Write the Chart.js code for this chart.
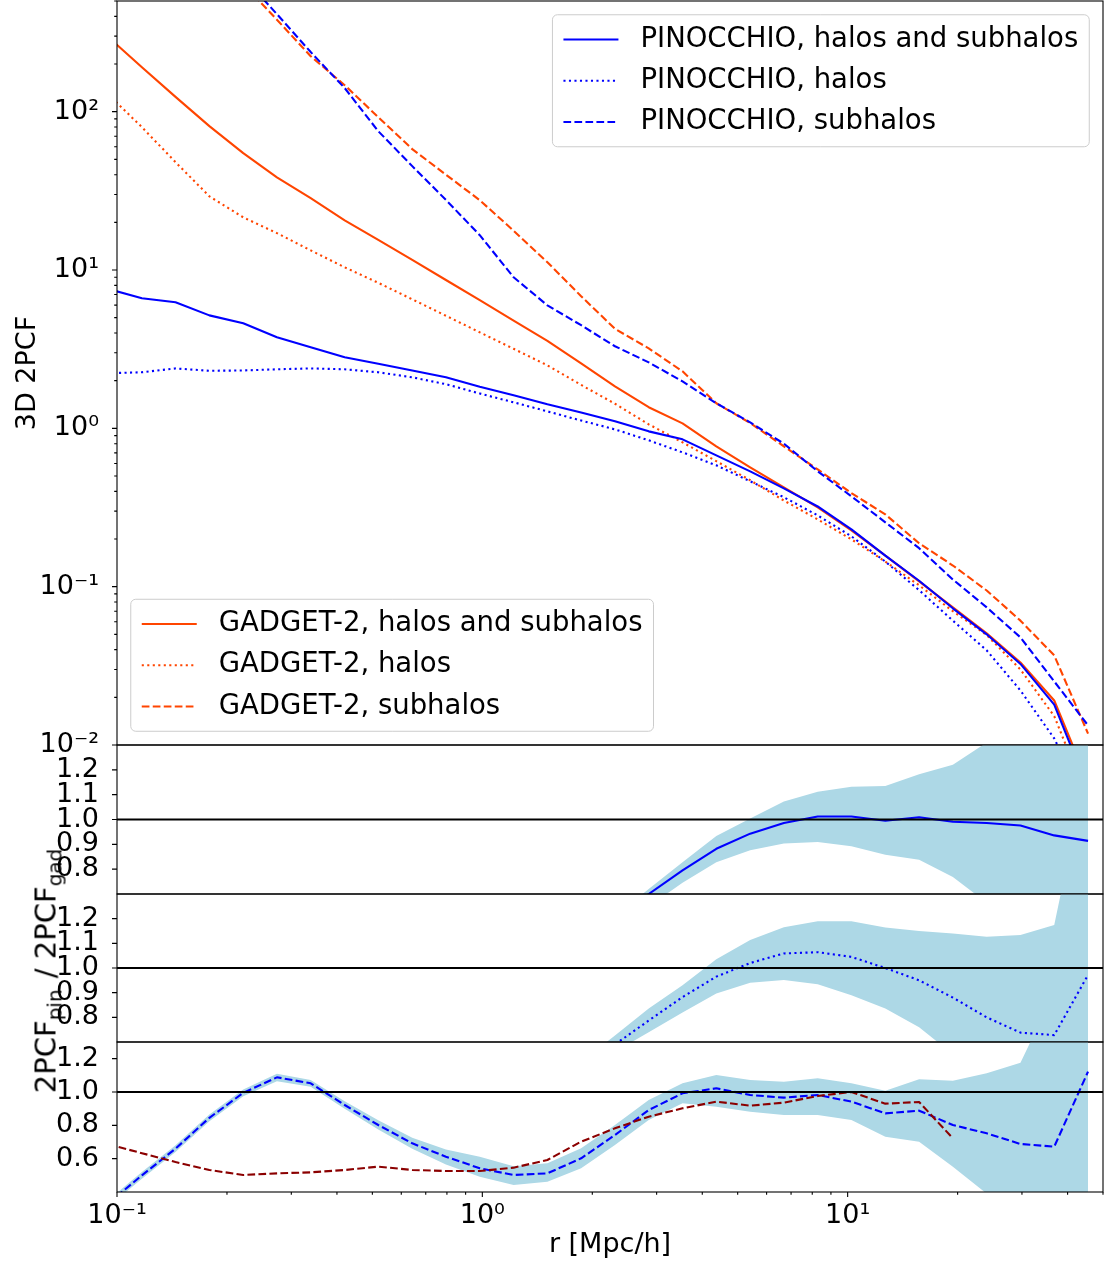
<!DOCTYPE html>
<html>
<head>
<meta charset="utf-8">
<title>3D 2PCF, PINOCCHIO vs GADGET-2</title>
<script src="https://cdn.jsdelivr.net/npm/chart.js"></script>
<style>
  body { margin: 0; background: #fff; }
  #page { position: relative; width: 1107px; height: 1268px; overflow: hidden; background: #fff; }
  #page canvas { position: absolute; left: 0; }
  #ratioLabel {
    position: absolute; left: 46px; top: 970px;
    transform: translate(-50%, -50%) rotate(-90deg);
    font: 29px "DejaVu Sans", sans-serif; white-space: nowrap; line-height: 1; color: #000;
  }
  #ratioLabel sub { font-size: 20px; vertical-align: -6px; line-height: 0; margin-right: 2px; }
</style>
</head>
<body>
<div id="page">
  <canvas id="panelMain" width="1107" height="770" style="top:0px"></canvas>
  <canvas id="panelTot" width="1107" height="169" style="top:735px"></canvas>
  <canvas id="panelHalo" width="1107" height="168" style="top:884px"></canvas>
  <canvas id="panelSub" width="1107" height="236" style="top:1032px"></canvas>
  <div id="ratioLabel">2PCF<sub>pin</sub> / 2PCF<sub>gad</sub></div>
</div>
<script>
// bin centres r [Mpc/h]; the first one sits just left of the axis
const r = [0.0945, 0.117, 0.1446, 0.179, 0.2216, 0.274, 0.339, 0.420, 0.519, 0.643,
  0.795, 0.984, 1.218, 1.507, 1.864, 2.307, 2.854, 3.532, 4.37, 5.41,
  6.69, 8.28, 10.24, 12.68, 15.69, 19.41, 24.02, 29.72, 36.77, 45.5];

// top panel: 3D 2PCF
const gadTot = [297, 191, 124, 81, 54.7, 38.5, 28.4, 20.6, 15.5, 11.6,
  8.65, 6.45, 4.79, 3.57, 2.57, 1.84, 1.36, 1.075, 0.77, 0.567,
  0.424, 0.317, 0.227, 0.157, 0.108, 0.074, 0.0507, 0.0332, 0.0191, 0.0058];
const gadHalo = [129, 79.8, 48, 29.2, 21.5, 17.1, 13.3, 10.4, 8.3, 6.53,
  5.14, 4.04, 3.18, 2.50, 1.88, 1.43, 1.06, 0.816, 0.62, 0.47,
  0.35, 0.266, 0.199, 0.144, 0.102, 0.07, 0.0495, 0.030, 0.0152, 0.0045];
const gadSub = [4800, 2900, 1800, 1070, 640, 381, 224, 147, 92.3, 58,
  40, 27.6, 17.7, 11.2, 6.83, 4.25, 3.2, 2.29, 1.44, 1.08,
  0.77, 0.55, 0.39, 0.286, 0.188, 0.136, 0.0946, 0.061, 0.0368, 0.0118];
const pinTot = [7.61, 6.63, 6.25, 5.17, 4.61, 3.76, 3.25, 2.81, 2.56, 2.32,
  2.10, 1.83, 1.62, 1.42, 1.26, 1.11, 0.957, 0.852, 0.675, 0.535,
  0.418, 0.321, 0.230, 0.157, 0.109, 0.073, 0.050, 0.0325, 0.018, 0.0053];
const pinHalo = [2.23, 2.26, 2.39, 2.31, 2.32, 2.36, 2.39, 2.36, 2.26, 2.10,
  1.90, 1.66, 1.46, 1.28, 1.12, 0.985, 0.84, 0.705, 0.584, 0.463,
  0.367, 0.282, 0.208, 0.144, 0.095, 0.061, 0.0396, 0.0221, 0.011, 0.004];
const pinSub = [6200, 3590, 2080, 1210, 708, 413, 238, 141, 75.3, 45.3,
  27.7, 16.6, 9.0, 5.98, 4.48, 3.30, 2.61, 1.98, 1.44, 1.09,
  0.80, 0.535, 0.372, 0.255, 0.175, 0.111, 0.074, 0.0478, 0.0252, 0.0133];

// ratio panels: pin / gad and the light blue bands
const ratioTot = [0.03, 0.035, 0.05, 0.06, 0.08, 0.10, 0.11, 0.14, 0.17, 0.19,
  0.23, 0.27, 0.33, 0.40, 0.49, 0.60, 0.70, 0.795, 0.882, 0.943,
  0.986, 1.012, 1.012, 0.995, 1.009, 0.991, 0.986, 0.976, 0.936, 0.914];
const ratioTotHi = [0.04, 0.045, 0.06, 0.07, 0.09, 0.11, 0.13, 0.16, 0.19, 0.22,
  0.26, 0.31, 0.37, 0.44, 0.53, 0.61, 0.72, 0.828, 0.934, 1.004,
  1.072, 1.112, 1.132, 1.135, 1.182, 1.22, 1.31, 1.45, 1.7, 2.0];
const ratioTotLo = [0.02, 0.025, 0.04, 0.05, 0.07, 0.09, 0.10, 0.12, 0.15, 0.17,
  0.20, 0.24, 0.29, 0.36, 0.45, 0.52, 0.65, 0.745, 0.828, 0.876,
  0.903, 0.909, 0.892, 0.858, 0.838, 0.768, 0.665, 0.55, 0.45, 0.40];

const ratioHalo = [0.017, 0.028, 0.05, 0.08, 0.11, 0.14, 0.18, 0.23, 0.27, 0.32,
  0.37, 0.41, 0.46, 0.51, 0.61, 0.69, 0.787, 0.882, 0.965, 1.02,
  1.059, 1.064, 1.045, 1.0, 0.95, 0.88, 0.80, 0.738, 0.728, 0.972];
const ratioHaloHi = [0.03, 0.04, 0.06, 0.09, 0.12, 0.16, 0.20, 0.25, 0.30, 0.35,
  0.40, 0.45, 0.50, 0.56, 0.62, 0.726, 0.836, 0.93, 1.035, 1.114,
  1.165, 1.19, 1.19, 1.164, 1.15, 1.14, 1.127, 1.134, 1.174, 1.83];
const ratioHaloLo = [0.01, 0.02, 0.04, 0.07, 0.10, 0.12, 0.16, 0.20, 0.24, 0.29,
  0.33, 0.37, 0.42, 0.47, 0.52, 0.66, 0.74, 0.82, 0.897, 0.94,
  0.951, 0.934, 0.89, 0.836, 0.76, 0.65, 0.55, 0.45, 0.40, 0.35];

const ratioSub = [0.33, 0.50, 0.66, 0.845, 0.995, 1.088, 1.052, 0.922, 0.802, 0.692,
  0.612, 0.542, 0.502, 0.512, 0.602, 0.742, 0.892, 0.992, 1.022, 0.982,
  0.966, 0.982, 0.942, 0.872, 0.888, 0.802, 0.752, 0.688, 0.672, 1.122];
const ratioSubHi = [0.35, 0.52, 0.68, 0.865, 1.015, 1.11, 1.072, 0.945, 0.83, 0.725,
  0.655, 0.612, 0.555, 0.572, 0.662, 0.802, 0.952, 1.052, 1.102, 1.072,
  1.062, 1.082, 1.052, 1.008, 1.076, 1.068, 1.112, 1.175, 1.6, 1.8];
const ratioSubLo = [0.31, 0.48, 0.64, 0.825, 0.975, 1.065, 1.032, 0.90, 0.775, 0.66,
  0.565, 0.492, 0.442, 0.462, 0.542, 0.682, 0.832, 0.932, 0.912, 0.882,
  0.862, 0.862, 0.832, 0.732, 0.702, 0.552, 0.39, 0.30, 0.25, 0.20];
const ratioSubAlt = [0.686, 0.633, 0.58, 0.532, 0.502, 0.512, 0.518, 0.532, 0.552, 0.532,
  0.526, 0.526, 0.546, 0.592, 0.702, 0.782, 0.852, 0.902, 0.942, 0.918,
  0.936, 0.976, 1.0, 0.93, 0.94, 0.722, null, null, null, null];

// ticks
const xTicks = [0.1, 1, 10];
const xTickText = ['10⁻¹', '10⁰', '10¹'];
const yTicks = [0.01, 0.1, 1, 10, 100];
const yTickText = ['10⁻²', '10⁻¹', '10⁰', '10¹', '10²'];
const ratioTicks = [0.8, 0.9, 1.0, 1.1, 1.2];
const ratioSubTicks = [0.6, 0.8, 1.0, 1.2];

const FS = 27;
const FS_LEG = 27.5;
const LW = 2.1;
const DOT = [2.1, 3.4];
const DASH = [7.7, 3.3];
const BLUE = '#0000ff', ORANGE = '#ff4500', DARKRED = '#8b0000', BAND = '#add8e6';

Chart.defaults.font.family = '"DejaVu Sans", sans-serif';
Chart.defaults.font.size = FS;
Chart.defaults.color = '#000';
Chart.defaults.animation = false;

const pts = ys => r.map((x, i) => ({ x: x, y: ys[i] }));

function logMinors(min, max) {
  const out = [];
  for (let k = Math.floor(Math.log10(min)); k <= Math.ceil(Math.log10(max)); k++) {
    for (let m = 2; m <= 9; m++) {
      const v = m * Math.pow(10, k);
      if (v > min && v <= max * 1.0001) out.push(v);
    }
  }
  return out;
}

function setTicks(scale, majors, minors) {
  scale.ticks = majors.map(v => ({ value: v, big: true }))
    .concat(minors.map(v => ({ value: v, big: false })))
    .sort((a, b) => a.value - b.value);
}

function tickText(majors, texts, v) {
  const k = majors.findIndex(m => Math.abs(m - v) < 1e-9 * m);
  return k >= 0 ? texts[k] : '';
}

// axis boxes must not push the plot area around
function noPad(s) {
  s.paddingTop = 0; s.paddingBottom = 0; s.paddingLeft = 0; s.paddingRight = 0;
}

function line(label, ys, color, dash, order) {
  return {
    label: label, data: pts(ys), borderColor: color, backgroundColor: color,
    borderWidth: LW, borderDash: dash, pointRadius: 0, fill: false,
    tension: 0, order: order, borderJoinStyle: 'round'
  };
}

function band(lo, hi) {
  return [
    { label: 'lo', data: pts(lo), borderWidth: 0, borderColor: 'rgba(0,0,0,0)', pointRadius: 0, fill: false, order: 5 },
    { label: 'hi', data: pts(hi), borderWidth: 0, borderColor: 'rgba(0,0,0,0)', pointRadius: 0, fill: '-1', backgroundColor: BAND, order: 5 }
  ];
}

function xAxis(show) {
  return {
    type: 'logarithmic', min: 0.1, max: 50, display: show,
    afterBuildTicks: s => setTicks(s, xTicks, logMinors(0.1, 50)),
    afterFit: s => { s.height = show ? 76 : 0; noPad(s); },
    grid: { display: false }, border: { display: false },
    ticks: { autoSkip: false, maxRotation: 0, padding: 0, callback: v => tickText(xTicks, xTickText, v) },
    title: { display: show, text: 'r [Mpc/h]', padding: { top: 0, bottom: 7 } }
  };
}

// box, tick marks and the ratio = 1 line
const framePlugin = {
  id: 'frame',
  afterDatasetsDraw(chart, args, opts) {
    const { ctx, chartArea: a, scales } = chart;
    ctx.save();
    if (opts.refLine !== undefined) {
      const y = scales.y.getPixelForValue(opts.refLine);
      ctx.strokeStyle = '#000';
      ctx.lineWidth = 2;
      ctx.beginPath(); ctx.moveTo(a.left, y); ctx.lineTo(a.right, y); ctx.stroke();
    }
    ctx.strokeStyle = '#000';
    ctx.lineWidth = 1.1;
    ctx.beginPath();
    scales.y.ticks.forEach(t => {
      const y = scales.y.getPixelForValue(t.value);
      ctx.moveTo(a.left, y); ctx.lineTo(a.left - (t.big ? 5 : 2.8), y);
    });
    if (scales.x.options.display) {
      scales.x.ticks.forEach(t => {
        const x = scales.x.getPixelForValue(t.value);
        ctx.moveTo(x, a.bottom); ctx.lineTo(x, a.bottom + (t.big ? 5 : 2.8));
      });
    }
    ctx.stroke();
    ctx.strokeRect(a.left, a.top, a.right - a.left, a.bottom - a.top);
    ctx.restore();
  }
};

const legendGroups = [
  { corner: 'upper right', labels: ['PINOCCHIO, halos and subhalos', 'PINOCCHIO, halos', 'PINOCCHIO, subhalos'] },
  { corner: 'lower left', labels: ['GADGET-2, halos and subhalos', 'GADGET-2, halos', 'GADGET-2, subhalos'] }
];

const legendPlugin = {
  id: 'boxLegend',
  afterDraw(chart) {
    const { ctx, chartArea: a } = chart;
    const pad = 0.4 * FS_LEG, hl = 2 * FS_LEG, hp = 0.8 * FS_LEG, off = 0.5 * FS_LEG;
    legendGroups.forEach(g => {
      const sets = g.labels.map(l => chart.data.datasets.find(d => d.label === l));
      ctx.save();
      ctx.font = FS_LEG + 'px "DejaVu Sans", sans-serif';
      const tw = Math.max(...sets.map(d => ctx.measureText(d.label).width));
      const w = 2 * pad + hl + hp + tw;
      const h = 2 * pad + sets.length * FS_LEG + (sets.length - 1) * 0.5 * FS_LEG;
      const x = g.corner === 'upper right' ? a.right - off - w : a.left + off;
      const y = g.corner === 'upper right' ? a.top + off : a.bottom - off - h;
      ctx.beginPath();
      ctx.roundRect(x, y, w, h, 5);
      ctx.fillStyle = 'rgba(255,255,255,0.8)';
      ctx.fill();
      ctx.strokeStyle = '#cccccc';
      ctx.lineWidth = 1;
      ctx.stroke();
      sets.forEach((d, i) => {
        const cy = y + pad + FS_LEG / 2 + i * 1.5 * FS_LEG;
        ctx.beginPath();
        ctx.setLineDash(d.borderDash || []);
        ctx.strokeStyle = d.borderColor;
        ctx.lineWidth = d.borderWidth;
        ctx.moveTo(x + pad, cy); ctx.lineTo(x + pad + hl, cy);
        ctx.stroke();
        ctx.setLineDash([]);
        ctx.fillStyle = '#000';
        ctx.textBaseline = 'middle';
        ctx.fillText(d.label, x + pad + hl + hp, cy);
      });
      ctx.restore();
    });
  }
};

new Chart(document.getElementById('panelMain'), {
  type: 'line',
  data: {
    datasets: [
      line('PINOCCHIO, halos and subhalos', pinTot, BLUE, [], 0),
      line('PINOCCHIO, halos', pinHalo, BLUE, DOT, 0),
      line('PINOCCHIO, subhalos', pinSub, BLUE, DASH, 0),
      line('GADGET-2, halos and subhalos', gadTot, ORANGE, [], 1),
      line('GADGET-2, halos', gadHalo, ORANGE, DOT, 1),
      line('GADGET-2, subhalos', gadSub, ORANGE, DASH, 1)
    ]
  },
  options: {
    responsive: false,
    events: [],
    layout: { padding: { top: 1, bottom: 25, right: 4, left: 0 } },
    scales: {
      x: xAxis(false),
      y: {
        type: 'logarithmic', min: 0.01, max: 500,
        afterFit: s => { s.width = 117; noPad(s); },
        afterBuildTicks: s => setTicks(s, yTicks, logMinors(0.01, 500)),
        grid: { display: false }, border: { display: false },
        ticks: { autoSkip: false, padding: 10, callback: v => tickText(yTicks, yTickText, v) },
        title: { display: true, text: '3D 2PCF', padding: { top: 12, bottom: 0 } }
      }
    },
    plugins: { legend: { display: false }, tooltip: { enabled: false }, frame: {} }
  },
  plugins: [framePlugin, legendPlugin]
});

function ratioPanel(id, yMin, yMax, ticks, datasets, showX) {
  return new Chart(document.getElementById(id), {
    type: 'line',
    data: { datasets: datasets },
    options: {
      responsive: false,
      events: [],
      layout: { padding: { top: 10, bottom: showX ? 0 : 10, right: 4, left: 0 } },
      scales: {
        x: xAxis(showX),
        y: {
          type: 'linear', min: yMin, max: yMax,
          afterFit: s => { s.width = 117; noPad(s); },
          afterBuildTicks: s => setTicks(s, ticks, []),
          grid: { display: false }, border: { display: false },
          ticks: { autoSkip: false, padding: 10, callback: v => Number(v).toFixed(1) }
        }
      },
      plugins: { legend: { display: false }, tooltip: { enabled: false }, frame: { refLine: 1 } }
    },
    plugins: [framePlugin]
  });
}

ratioPanel('panelTot', 0.7, 1.3, ratioTicks,
  band(ratioTotLo, ratioTotHi).concat([line('total', ratioTot, BLUE, [], 1)]), false);
ratioPanel('panelHalo', 0.7, 1.3, ratioTicks,
  band(ratioHaloLo, ratioHaloHi).concat([line('halos', ratioHalo, BLUE, DOT, 1)]), false);
ratioPanel('panelSub', 0.4, 1.3, ratioSubTicks,
  band(ratioSubLo, ratioSubHi).concat([
    line('subhalos', ratioSub, BLUE, DASH, 1),
    line('subhalos alt', ratioSubAlt, DARKRED, DASH, 0)
  ]), true);
</script>
</body>
</html>
